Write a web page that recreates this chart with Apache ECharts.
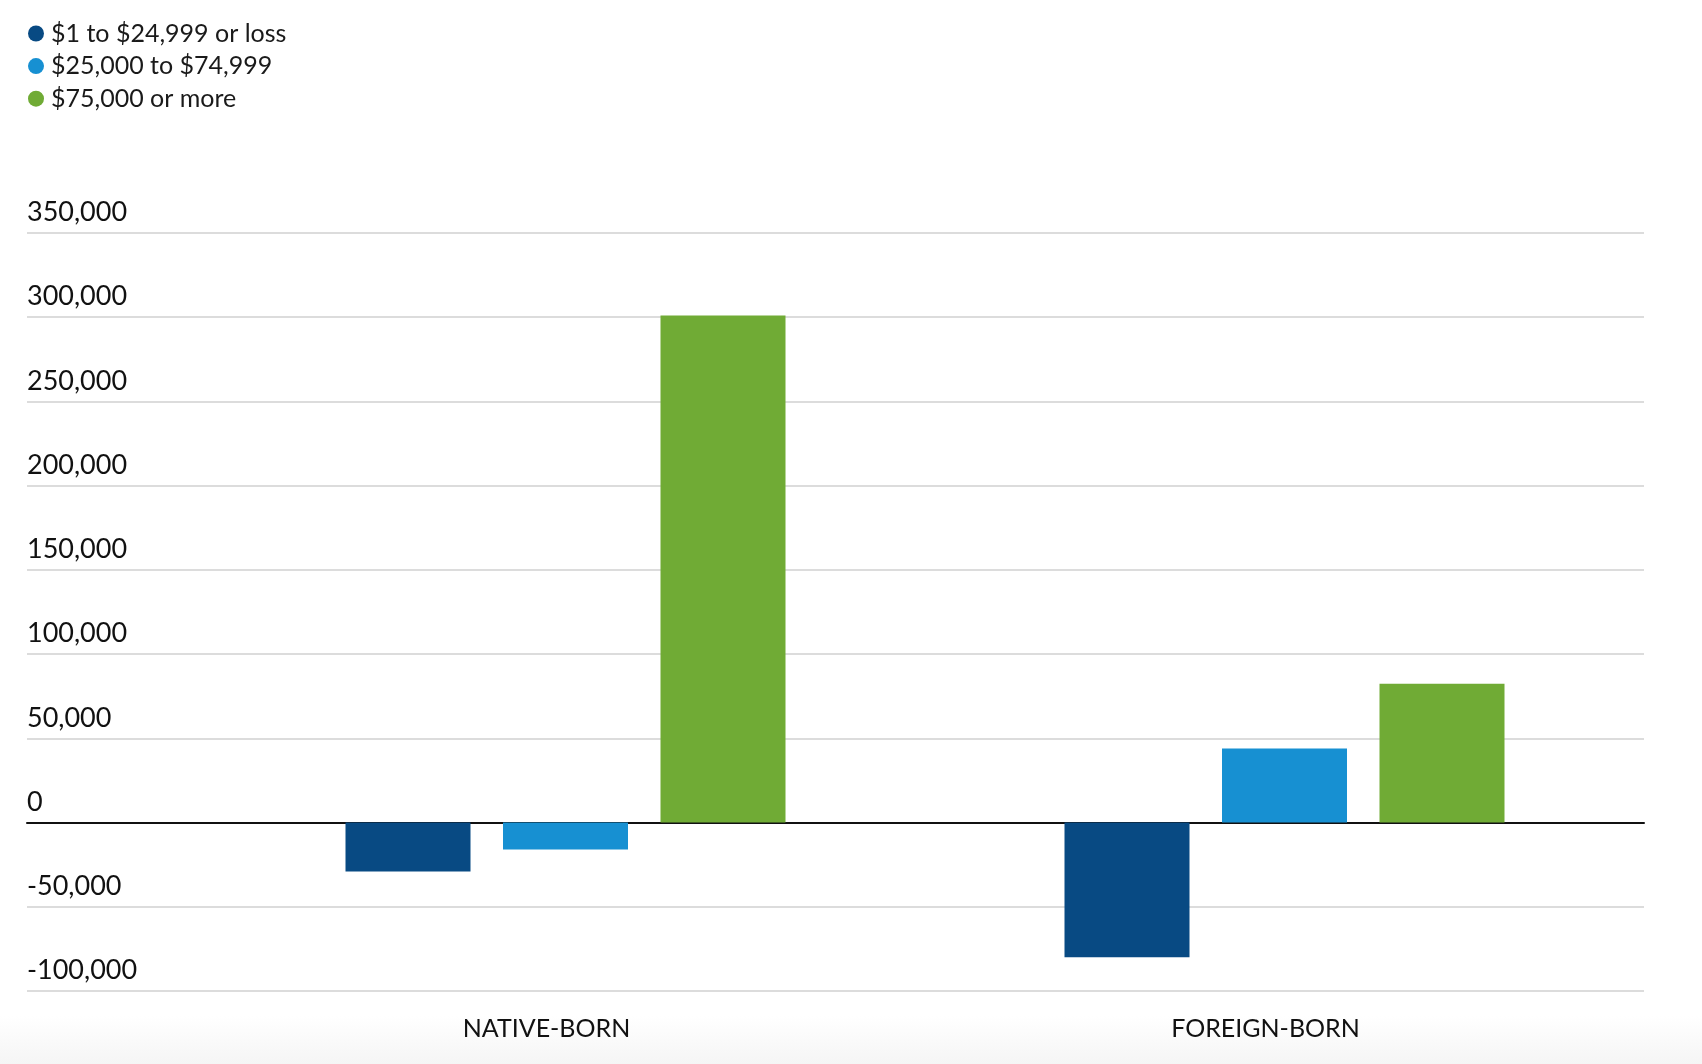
<!DOCTYPE html>
<html>
<head>
<meta charset="utf-8">
<script src="https://cdn.jsdelivr.net/npm/echarts@6/dist/echarts.min.js"></script>
<style>
  html, body { margin: 0; padding: 0; background: #fff; }
  #chart { width: 1702px; height: 1064px; }
</style>
</head>
<body>
<div id="chart"></div>
<script>
const categories = ['NATIVE-BORN', 'FOREIGN-BORN'];
const seriesNames = ['$1 to $24,999 or loss', '$25,000 to $74,999', '$75,000 or more'];
const lowIncome = [-29000, -80000];
const midIncome = [-16000, 44000];
const highIncome = [301000, 82400];
const yTicks = { min: -100000, max: 350000, interval: 50000 };

const colors = ['#084a83', '#1790d2', '#70ab35'];
const font = 'Lato, "Open Sans", sans-serif';

const chart = echarts.init(document.getElementById('chart'));

const yBase = {
  type: 'value',
  min: yTicks.min,
  max: yTicks.max,
  interval: yTicks.interval,
};

const option = {
  backgroundColor: new echarts.graphic.LinearGradient(0, 0, 0, 1, [
    { offset: 0, color: '#ffffff' },
    { offset: 0.955, color: '#ffffff' },
    { offset: 1, color: '#f5f5f5' },
  ]),
  animation: false,
  color: colors,
  legend: {
    orient: 'vertical',
    left: 23,
    top: 16,
    icon: 'circle',
    itemWidth: 16,
    itemHeight: 16,
    itemGap: 7.6,
    selectedMode: false,
    textStyle: {
      fontFamily: font,
      fontSize: 25,
      lineHeight: 25,
      color: '#1a1a1a',
      padding: [0, 0, 0, 2],
    },
    data: seriesNames,
  },
  grid: [
    // gridlines and y labels span the full width
    { left: 27, right: 58, top: 233, bottom: 73 },
    // bars sit in a narrower band
    { left: 206, right: 58, top: 233, bottom: 73 },
  ],
  xAxis: [
    {
      gridIndex: 0,
      type: 'value',
      min: 0,
      max: 1,
      axisLabel: { show: false },
      axisTick: { show: false },
      splitLine: { show: false },
      axisLine: { show: true, onZero: true, lineStyle: { color: '#111', width: 2 } },
    },
    {
      gridIndex: 1,
      type: 'category',
      data: categories,
      axisLine: { show: false },
      axisTick: { show: false },
      axisLabel: {
        fontFamily: font,
        fontSize: 25,
        color: '#111',
        margin: 25,
        padding: [0, 38, 0, 0],
      },
    },
  ],
  yAxis: [
    Object.assign({}, yBase, {
      gridIndex: 0,
      axisLine: { show: false },
      axisTick: { show: false },
      axisLabel: {
        inside: true,
        margin: 0,
        align: 'left',
        verticalAlign: 'bottom',
        padding: [0, 0, 7, 0],
        fontFamily: font,
        fontSize: 27,
        color: '#111',
        formatter: v => v.toLocaleString('en-US'),
      },
      splitLine: { lineStyle: { color: '#dcdcdc', width: 2 } },
    }),
    Object.assign({}, yBase, { gridIndex: 1, show: false, splitLine: { show: false } }),
  ],
  series: [lowIncome, midIncome, highIncome].map((d, i) => ({
    name: seriesNames[i],
    type: 'bar',
    xAxisIndex: 1,
    yAxisIndex: 1,
    barWidth: 125,
    barGap: '26%',
    data: d,
    itemStyle: { color: colors[i] },
  })),
};

chart.setOption(option);
</script>
</body>
</html>
